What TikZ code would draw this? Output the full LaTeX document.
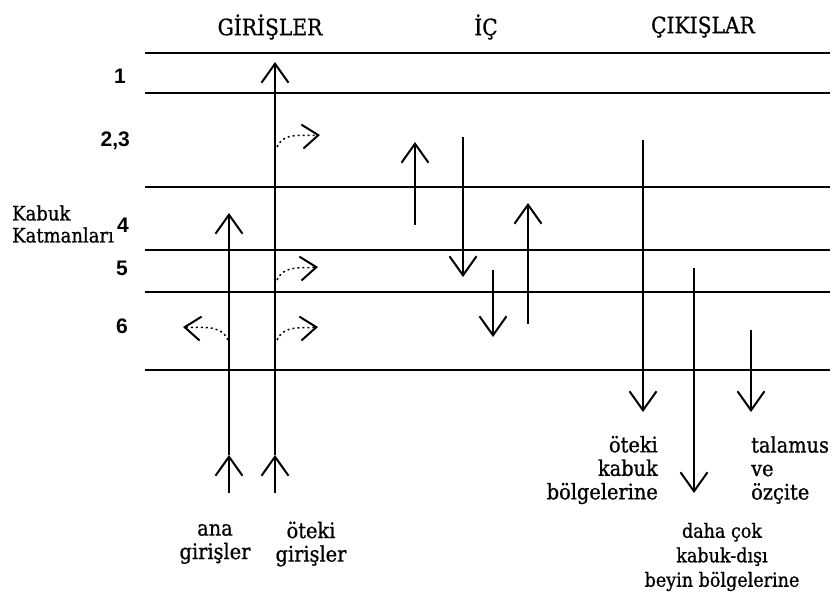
\documentclass[tikz,border=0pt]{standalone}
\usepackage{fontspec}
\setmainfont{DejaVu Serif}[FakeStretch=0.9,FakeBold=0.8]
\newfontfamily\numfont{Liberation Sans}
\usetikzlibrary{arrows.meta}

\begin{document}
\begin{tikzpicture}[x=1pt,y=-1pt,
    layer/.style={line width=2.6pt},
    fibre/.style={line width=1.6pt,-{Straight Barb[length=19pt,width=27pt,line width=2pt]}},
    side/.style={line width=1.5pt,dash pattern=on 2pt off 3pt,-{Straight Barb[length=16pt,width=24pt,line width=2pt]}},
    lbl/.style={font=\fontsize{21.5}{23.5}\selectfont,align=center,inner sep=0pt},
    num/.style={font=\numfont\bfseries\fontsize{21}{21}\selectfont,anchor=east,inner sep=0pt}]
  \useasboundingbox (0,0) rectangle (838,603);
  % kabuk katmanlari
  \foreach \y in {53,93,187,250,292,370}
    \draw[layer] (145,\y) -- (830,\y);
  \node[num] (n1) at (126,76) {1};
  \node[num] (n23) at (130,141) {2,3};
  \node[num] (n4) at (129,225) {4};
  \node[num] (n5) at (128,268) {5};
  \node[num] (n6) at (128,326) {6};
  \node[lbl,font=\fontsize{20}{22}\selectfont,align=left,anchor=west] (katman) at (12,224) {Kabuk\\Katmanları};
  % basliklar
  \node[lbl,font=\fontsize{22.5}{24}\selectfont] (giris) at (270,27) {GİRİŞLER};
  \node[lbl,font=\fontsize{22.5}{24}\selectfont] (ic) at (486,27) {İÇ};
  \node[lbl,font=\fontsize{22.5}{24}\selectfont] (cikis) at (703,27) {ÇIKIŞLAR};
  % girisler
  \coordinate (ana0) at (229,493);
  \coordinate (ana1) at (229,455);
  \coordinate (ana2) at (229,213);
  \coordinate (ote0) at (275,493);
  \coordinate (ote1) at (275,455);
  \coordinate (ote2) at (275,62);
  \draw[fibre] (ana0) -- (ana1);
  \draw[fibre] (ana1) -- (ana2);
  \draw[fibre] (ote0) -- (ote1);
  \draw[fibre] (ote1) -- (ote2);
  \draw[side] (277,147) to[out=65,in=185] (320,135);
  \draw[side] (277,280) to[out=65,in=185] (318,267);
  \draw[side] (277,340) to[out=65,in=185] (318,327);
  \draw[side] (228,340) to[out=115,in=-5] (183,327);
  % ic baglantilar
  \coordinate (a1) at (415,225);
  \coordinate (b1) at (415,142);
  \coordinate (a2) at (463,137);
  \coordinate (b2) at (463,277);
  \coordinate (a3) at (493,270);
  \coordinate (b3) at (493,337);
  \coordinate (a4) at (528,324);
  \coordinate (b4) at (528,203);
  \foreach \i in {1,...,4}
    \draw[fibre] (a\i) -- (b\i);
  % cikislar
  \coordinate (c1) at (643,140);
  \coordinate (d1) at (643,412);
  \coordinate (c2) at (694,268);
  \coordinate (d2) at (694,493);
  \coordinate (c3) at (751,330);
  \coordinate (d3) at (751,412);
  \foreach \i in {1,2,3}
    \draw[fibre] (c\i) -- (d\i);
  % etiketler
  \node[lbl] (anagiris) at (215,544) {ana\\girişler};
  \node[lbl] (otegiris) at (311,544) {öteki\\girişler};
  \node[lbl,align=right,anchor=east] (otekabuk) at (658,470) {öteki\\kabuk\\bölgelerine};
  \node[lbl,align=left,anchor=west] (talamus) at (751,470) {talamus\\ve\\özçite};
  \node[lbl,font=\fontsize{19.5}{24.5}\selectfont] (disi) at (722,557) {daha çok\\kabuk-dışı\\beyin bölgelerine};
\end{tikzpicture}
\end{document}
